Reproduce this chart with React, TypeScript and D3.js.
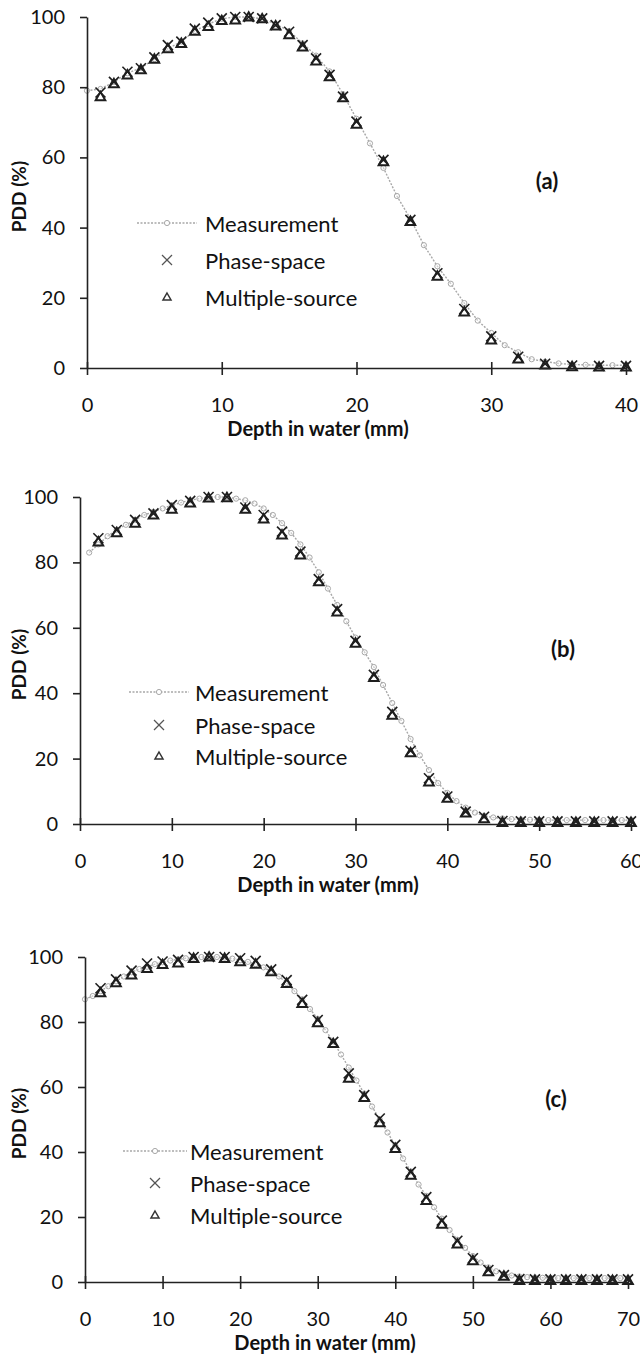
import * as d3 from "d3";
import { useRef, useEffect } from "react";

const width = 640;
const height = 1360;

// ---- panel (a) ----
const aMeasDepth = [0, 1, 2, 3, 4, 5, 6, 7, 8, 9, 10, 11, 12, 13, 14, 15, 16, 17, 18, 19, 20, 21, 22, 23, 24, 25, 26, 27, 28, 29, 30, 31, 32, 33, 34, 35, 36, 37, 38, 39, 40];
const aMeas = [79, 79.5, 81.5, 84, 85.5, 88, 91, 93, 96, 98, 99.5, 100, 100, 99.5, 98, 96, 92.5, 89, 84.5, 78, 71, 64, 57, 49, 42.5, 35, 29, 24, 18.5, 13.5, 10, 6.5, 4.5, 2.5, 1.8, 1.3, 1, 0.9, 0.8, 0.8, 0.8];
const aSimDepth = [1, 2, 3, 4, 5, 6, 7, 8, 9, 10, 11, 12, 13, 14, 15, 16, 17, 18, 19, 20, 22, 24, 26, 28, 30, 32, 34, 36, 38, 40];
const aPhase = [78.5, 81.5, 84.4, 85.4, 88.5, 92, 93, 96.7, 98.4, 99.6, 100, 100, 99.6, 97.7, 95.8, 92, 88.2, 83.5, 77.3, 70.2, 59.3, 42.2, 27, 16.8, 9, 3.2, 1.2, 0.7, 0.6, 0.6];
const aMultiple = [77.3, 81, 83.5, 85, 88, 91, 92.5, 96, 97.3, 99, 99.2, 100, 99.5, 97.5, 95, 91.5, 87.5, 83, 77, 69.5, 58.8, 41.8, 26.2, 16, 8, 2.6, 0.9, 0.4, 0.3, 0.3];
const aTicks = [0, 10, 20, 30, 40];

// ---- panel (b) ----
const bMeasDepth = [1, 2, 3, 4, 5, 6, 7, 8, 9, 10, 11, 12, 13, 14, 15, 16, 17, 18, 19, 20, 21, 22, 23, 24, 25, 26, 27, 28, 29, 30, 31, 32, 33, 34, 35, 36, 37, 38, 39, 40, 41, 42, 43, 44, 45, 46, 47, 48, 49, 50, 51, 52, 53, 54, 55, 56, 57, 58, 59, 60];
const bMeas = [83, 85.5, 88, 90, 91.5, 93, 94.5, 95.5, 96.5, 97.5, 98.3, 99, 99.5, 100, 100, 100, 99.5, 99, 98, 96.5, 94.5, 92, 89, 85.5, 81.5, 77, 72, 67, 62, 57, 52.5, 48, 42.5, 37, 31.5, 26, 21, 16.5, 12.5, 9.5, 7, 5, 3.5, 2.5, 2, 1.7, 1.5, 1.4, 1.3, 1.3, 1.2, 1.2, 1.2, 1.2, 1.2, 1.2, 1.2, 1.2, 1.2, 1.2];
const bSimDepth = [2, 4, 6, 8, 10, 12, 14, 16, 18, 20, 22, 24, 26, 28, 30, 32, 34, 36, 38, 40, 42, 44, 46, 48, 50, 52, 54, 56, 58, 60];
const bPhase = [87.4, 89.9, 93, 95, 97.5, 98.8, 100, 100, 96.8, 94.5, 89.4, 83.3, 74.9, 65.7, 56, 45.6, 34.3, 22.4, 14, 8.4, 3.8, 2.2, 0.9, 0.8, 0.8, 0.8, 0.8, 0.8, 0.8, 0.8];
const bMultiple = [86.3, 89.1, 92, 94.5, 96.3, 98.2, 99.7, 99.8, 96.3, 93.3, 88.4, 82.3, 74.1, 64.9, 55.3, 44.8, 33.3, 21.8, 12.9, 7.9, 3.4, 1.6, 0.5, 0.5, 0.5, 0.5, 0.5, 0.5, 0.5, 0.5];
const bTicks = [0, 10, 20, 30, 40, 50, 60];

// ---- panel (c) ----
const cMeasDepth = [0, 1, 2, 3, 4, 5, 6, 7, 8, 9, 10, 11, 12, 13, 14, 15, 16, 17, 18, 19, 20, 21, 22, 23, 24, 25, 26, 27, 28, 29, 30, 31, 32, 33, 34, 35, 36, 37, 38, 39, 40, 41, 42, 43, 44, 45, 46, 47, 48, 49, 50, 51, 52, 53, 54, 55, 56, 57, 58, 59, 60, 61, 62, 63, 64, 65, 66, 67, 68, 69, 70];
const cMeas = [87, 88, 89.5, 91, 92.5, 94, 95.3, 96.3, 97, 97.8, 98.4, 98.9, 99.3, 99.6, 99.8, 100, 100, 100, 99.8, 99.5, 99, 98.5, 97.8, 96.8, 95.5, 94, 92, 89.5, 87, 84, 81, 77.5, 74, 70, 66, 62, 58, 54, 50, 46, 42, 38, 34, 30, 26.5, 23, 19.5, 16, 13, 10.5, 8, 6, 4.5, 3.3, 2.5, 2, 1.7, 1.5, 1.4, 1.3, 1.3, 1.2, 1.2, 1.2, 1.2, 1.2, 1.2, 1.2, 1.2, 1.2, 1.2];
const cSimDepth = [2, 4, 6, 8, 10, 12, 14, 16, 18, 20, 22, 24, 26, 28, 30, 32, 34, 36, 38, 40, 42, 44, 46, 48, 50, 52, 54, 56, 58, 60, 62, 64, 66, 68, 70];
const cPhase = [90.4, 93.1, 95.8, 98, 98.6, 99.1, 100, 100, 100, 99.6, 98.8, 96.2, 92.9, 86.8, 80.6, 73.9, 64.2, 57.5, 50.3, 42.2, 33.9, 26.1, 18.9, 12.7, 7.3, 3.7, 2.1, 0.9, 0.8, 0.8, 0.8, 0.8, 0.8, 0.8, 0.8];
const cMultiple = [89, 92.1, 94.5, 96.5, 97.7, 98.2, 99.6, 100, 99.6, 98.6, 97.8, 95.5, 91.9, 85.7, 79.8, 73.4, 62.7, 56.8, 49, 41.1, 32.9, 25.1, 17.8, 11.7, 6.6, 3.2, 1.8, 0.5, 0.5, 0.5, 0.5, 0.5, 0.5, 0.5, 0.5];
const cTicks = [0, 10, 20, 30, 40, 50, 60, 70];

const yTicks = [0, 20, 40, 60, 80, 100];
const legendNames = ["Measurement", "Phase-space", "Multiple-source"];

const font = "Lato, 'Open Sans', sans-serif";
const measColor = "#a8a8a8";
const markColor = "#1e1e1e";

type PanelProps = {
  label: string;
  measDepth: number[];
  meas: number[];
  simDepth: number[];
  phase: number[];
  multiple: number[];
  xTicks: number[];
  left: number;
  right: number;
  top: number;
  bottom: number;
  labelPos: [number, number];
  titleX: number;
  legend: { lineX0: number; lineX1: number; textX: number; rows: number[] };
};

const Cross = ({ cx, cy, s, color, w }: { cx: number; cy: number; s: number; color: string; w: number }) => (
  <g stroke={color} strokeWidth={w}>
    <line x1={cx - s} y1={cy - s} x2={cx + s} y2={cy + s} />
    <line x1={cx - s} y1={cy + s} x2={cx + s} y2={cy - s} />
  </g>
);

const Tri = ({ cx, cy, s, color, w }: { cx: number; cy: number; s: number; color: string; w: number }) => (
  <path
    d={`M${cx},${cy - s}L${cx + s},${cy + s * 0.75}L${cx - s},${cy + s * 0.75}Z`}
    fill="none"
    stroke={color}
    strokeWidth={w}
    strokeLinejoin="miter"
  />
);

const Panel = (p: PanelProps) => {
  const gx = useRef<SVGGElement>(null);
  const gy = useRef<SVGGElement>(null);

  const x = d3
    .scaleLinear()
    .domain([0, p.xTicks[p.xTicks.length - 1]])
    .range([p.left, p.right]);
  const y = d3.scaleLinear().domain([0, 100]).range([p.bottom, p.top]);

  useEffect(() => {
    if (gx.current) {
      const g = d3.select(gx.current);
      g.call(d3.axisBottom(x).tickValues(p.xTicks).tickSize(6).tickSizeOuter(0).tickFormat(d3.format("d")));
      g.select(".domain").attr("stroke", "#222").attr("stroke-width", 1.6);
      g.selectAll(".tick line").attr("y1", -6).attr("y2", 7).attr("stroke", "#222").attr("stroke-width", 1.6);
      g.selectAll(".tick text")
        .attr("y", 37)
        .attr("dy", "0.35em")
        .attr("fill", "#111")
        .style("font-family", font)
        .style("font-size", "20px");
    }
    if (gy.current) {
      const g = d3.select(gy.current);
      g.call(d3.axisLeft(y).tickValues(yTicks).tickSize(7).tickSizeOuter(0).tickPadding(15));
      g.select(".domain").attr("stroke", "#222").attr("stroke-width", 1.6);
      g.selectAll(".tick line").attr("stroke", "#222").attr("stroke-width", 1.6);
      g.selectAll(".tick text")
        .attr("fill", "#111")
        .style("font-family", font)
        .style("font-size", "20px");
    }
    return () => {
      if (gx.current) d3.select(gx.current).selectAll("*").remove();
      if (gy.current) d3.select(gy.current).selectAll("*").remove();
    };
  }, [p.label]);

  const measPts = p.measDepth.map((d, i) => [d, p.meas[i]] as [number, number]);
  const line = d3
    .line<[number, number]>()
    .x((d) => x(d[0]))
    .y((d) => y(d[1]));

  const lg = p.legend;
  const midX = (lg.lineX0 + lg.lineX1) / 2;

  return (
    <g>
      <path d={line(measPts) as string} fill="none" stroke={measColor} strokeWidth={1.4} strokeDasharray="2,1.5" />
      {measPts.map((d, i) => (
        <circle key={i} cx={x(d[0])} cy={y(d[1])} r={2.6} fill="#fff" fillOpacity={0.4} stroke={measColor} strokeWidth={1} />
      ))}
      {p.simDepth.map((d, i) => (
        <Tri key={"t" + i} cx={x(d)} cy={y(p.multiple[i])} s={4.8} color={markColor} w={2} />
      ))}
      {p.simDepth.map((d, i) => (
        <Cross key={"c" + i} cx={x(d)} cy={y(p.phase[i])} s={5} color={markColor} w={1.6} />
      ))}

      <g ref={gx} transform={`translate(0, ${p.bottom})`} />
      <g ref={gy} transform={`translate(${p.left}, 0)`} />

      <text
        transform={`translate(18, ${(p.top + p.bottom) / 2 + 4}) rotate(-90)`}
        textAnchor="middle"
        dominantBaseline="central"
        fontFamily={font}
        fontWeight="bold"
        fontSize={19}
        fill="#111"
      >
        PDD (%)
      </text>
      <text
        x={p.titleX}
        y={p.bottom + 60}
        textAnchor="middle"
        dominantBaseline="central"
        fontFamily={font}
        fontWeight="bold"
        fontSize={20}
        fill="#111"
      >
        Depth in water (mm)
      </text>
      <text
        x={p.labelPos[0]}
        y={p.labelPos[1]}
        textAnchor="middle"
        dominantBaseline="central"
        fontFamily={font}
        fontWeight="bold"
        fontSize={22}
        fill="#111"
      >
        {p.label}
      </text>

      {/* legend */}
      <line x1={lg.lineX0} x2={lg.lineX1} y1={lg.rows[0]} y2={lg.rows[0]} stroke={measColor} strokeWidth={1.4} strokeDasharray="2,1.5" />
      <circle cx={midX} cy={lg.rows[0]} r={2.6} fill="#fff" stroke={measColor} strokeWidth={1} />
      <Cross cx={midX} cy={lg.rows[1]} s={5} color="#555" w={1.2} />
      <Tri cx={midX} cy={lg.rows[2]} s={4} color="#333" w={1.5} />
      {legendNames.map((n, i) => (
        <text key={n} x={lg.textX} y={lg.rows[i]} dominantBaseline="central" fontFamily={font} fontSize={22} fill="#111">
          {n}
        </text>
      ))}
    </g>
  );
};

const App = () => {
  return (
    <svg
      width={width}
      height={height}
      viewBox={`0 0 ${width} ${height}`}
      style={{ position: "absolute", left: 0, top: 0, background: "#fff" }}
    >
      <Panel
        label="(a)"
        measDepth={aMeasDepth}
        meas={aMeas}
        simDepth={aSimDepth}
        phase={aPhase}
        multiple={aMultiple}
        xTicks={aTicks}
        left={87}
        right={626}
        top={17}
        bottom={368}
        labelPos={[547, 180]}
        titleX={318}
        legend={{ lineX0: 137, lineX1: 197, textX: 205, rows: [223, 260, 297] }}
      />
      <Panel
        label="(b)"
        measDepth={bMeasDepth}
        meas={bMeas}
        simDepth={bSimDepth}
        phase={bPhase}
        multiple={bMultiple}
        xTicks={bTicks}
        left={80}
        right={631}
        top={497}
        bottom={824}
        labelPos={[563, 648]}
        titleX={328}
        legend={{ lineX0: 129, lineX1: 189, textX: 195, rows: [692, 725, 756] }}
      />
      <Panel
        label="(c)"
        measDepth={cMeasDepth}
        meas={cMeas}
        simDepth={cSimDepth}
        phase={cPhase}
        multiple={cMultiple}
        xTicks={cTicks}
        left={85}
        right={628}
        top={957}
        bottom={1282}
        labelPos={[556, 1098]}
        titleX={325}
        legend={{ lineX0: 123, lineX1: 187, textX: 190, rows: [1151, 1183, 1215] }}
      />
    </svg>
  );
};

export default App;
